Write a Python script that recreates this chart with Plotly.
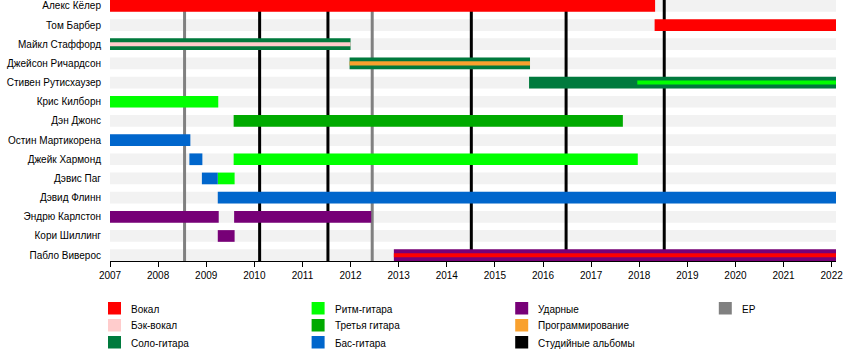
import plotly.graph_objects as go

# ---- data -------------------------------------------------------------
END = 2022.09  # "present"

members = [
    "Алекс Кёлер", "Том Барбер", "Майкл Стаффорд", "Джейсон Ричардсон",
    "Стивен Рутисхаузер", "Крис Килборн", "Дэн Джонс", "Остин Мартикорена",
    "Джейк Хармонд", "Дэвис Паг", "Дэвид Флинн", "Эндрю Карлстон",
    "Кори Шиллинг", "Пабло Виверос",
]

# main role periods
main_member = [
    "Алекс Кёлер", "Том Барбер", "Майкл Стаффорд", "Джейсон Ричардсон",
    "Стивен Рутисхаузер", "Крис Килборн", "Дэн Джонс", "Остин Мартикорена",
    "Джейк Хармонд", "Джейк Хармонд", "Дэвис Паг", "Дэвис Паг",
    "Дэвид Флинн", "Эндрю Карлстон", "Эндрю Карлстон", "Кори Шиллинг",
    "Пабло Виверос",
]
main_role = [
    "Вокал", "Вокал", "Соло-гитара", "Соло-гитара",
    "Соло-гитара", "Ритм-гитара", "Третья гитара", "Бас-гитара",
    "Бас-гитара", "Ритм-гитара", "Бас-гитара", "Ритм-гитара",
    "Бас-гитара", "Ударные", "Ударные", "Ударные",
    "Ударные",
]
main_start = [
    2007.0, 2018.32, 2007.0, 2011.98,
    2015.71, 2007.0, 2009.57, 2007.0,
    2008.65, 2009.57, 2008.91, 2009.24,
    2009.24, 2007.0, 2009.58, 2009.24,
    2012.9,
]
main_end = [
    2018.33, END, 2012.0, 2015.73,
    END, 2009.25, 2017.66, 2008.67,
    2008.92, 2017.97, 2009.24, 2009.59,
    END, 2009.26, 2012.43, 2009.59,
    END,
]

# secondary roles (thin inner bars)
extra_member = ["Майкл Стаффорд", "Джейсон Ричардсон", "Стивен Рутисхаузер", "Пабло Виверос"]
extra_role = ["Бэк-вокал", "Программирование", "Ритм-гитара", "Вокал"]
extra_start = [2007.0, 2011.98, 2017.96, 2012.9]
extra_end = [2012.0, 2015.73, END, END]

studio_albums = [2010.11, 2011.53, 2014.51, 2016.48, 2018.52]
eps = [2008.55, 2012.45]

years = list(range(2007, 2023))

legend_labels = [
    "Вокал", "Бэк-вокал", "Соло-гитара",
    "Ритм-гитара", "Третья гитара", "Бас-гитара",
    "Ударные", "Программирование", "Студийные альбомы",
    "EP",
]

colors = {
    "Вокал": "#FF0000",
    "Бэк-вокал": "#FFCCCC",
    "Соло-гитара": "#007A3D",
    "Ритм-гитара": "#00FF00",
    "Третья гитара": "#00AA00",
    "Бас-гитара": "#0066CC",
    "Ударные": "#770077",
    "Программирование": "#F9A12E",
    "Студийные альбомы": "#000000",
    "EP": "#808080",
}

# ---- geometry ---------------------------------------------------------
W, H = 850, 350
ML, MR, MT, MB = 110, 14, 0, 89
PW, PH = W - ML - MR, H - MT - MB
BAR_W = 0.61
INNER_W = 0.21
row = {m: i for i, m in enumerate(members)}
y_top, y_bottom = -BAR_W / 2, len(members) - 1 + BAR_W / 2

fig = go.Figure()


def add_bars(mem, role, start, end, width):
    for r in dict.fromkeys(role):
        idx = [k for k, rr in enumerate(role) if rr == r]
        fig.add_trace(go.Bar(
            orientation="h",
            y=[row[mem[k]] for k in idx],
            base=[start[k] for k in idx],
            x=[end[k] - start[k] for k in idx],
            width=width,
            marker=dict(color=colors[r], line=dict(width=0)),
            name=r,
            showlegend=False,
            hoverinfo="skip",
        ))


add_bars(main_member, main_role, main_start, main_end, BAR_W)
add_bars(extra_member, extra_role, extra_start, extra_end, INNER_W)

shapes = []
# light row bands
for i in range(len(members)):
    shapes.append(dict(type="rect", xref="x", yref="y", x0=years[0], x1=END,
                       y0=i - BAR_W / 2, y1=i + BAR_W / 2,
                       fillcolor="#F2F2F2", line=dict(width=0), layer="below"))
# release markers (above the bands, below the bars)
for d in eps:
    shapes.append(dict(type="line", xref="x", yref="y", x0=d, x1=d, y0=y_top, y1=y_bottom,
                       line=dict(color=colors["EP"], width=3), layer="below"))
for d in studio_albums:
    shapes.append(dict(type="line", xref="x", yref="y", x0=d, x1=d, y0=y_top, y1=y_bottom,
                       line=dict(color=colors["Студийные альбомы"], width=3), layer="below"))


def px_x(px):
    return (px - ML) / PW


def px_y(py):
    return (H - MB - py) / PH


# legend: 4 columns x 3 rows
annotations = []
for k, lab in enumerate(legend_labels):
    c, r = divmod(k, 3)
    sx = 108 + 203.6 * c
    sy = 302 + 17 * r
    shapes.append(dict(type="rect", xref="paper", yref="paper",
                       x0=px_x(sx), x1=px_x(sx + 13), y0=px_y(sy + 12.5), y1=px_y(sy),
                       fillcolor=colors[lab], line=dict(width=0)))
    annotations.append(dict(xref="paper", yref="paper", x=px_x(sx + 21), y=px_y(sy + 7),
                            text=lab, showarrow=False, xanchor="left", yanchor="middle",
                            font=dict(size=10, color="#000")))

fig.update_layout(
    width=W, height=H,
    margin=dict(l=ML, r=MR, t=MT, b=MB),
    plot_bgcolor="white", paper_bgcolor="white",
    barmode="overlay",
    showlegend=False,
    font=dict(family="Liberation Sans, Arial, sans-serif", size=10, color="#000"),
    shapes=shapes,
    annotations=annotations,
    xaxis=dict(range=[years[0], END], tickvals=years, ticks="outside", ticklen=5,
               tickcolor="#000", showline=True, linecolor="#000", linewidth=1,
               showgrid=False, zeroline=False, tickfont=dict(size=10)),
    yaxis=dict(range=[y_bottom, y_top],
               tickvals=list(range(len(members))), ticktext=members,
               showgrid=False, zeroline=False, ticks="", ticklabelstandoff=8,
               tickfont=dict(size=10)),
)

fig.write_html("out.html")
